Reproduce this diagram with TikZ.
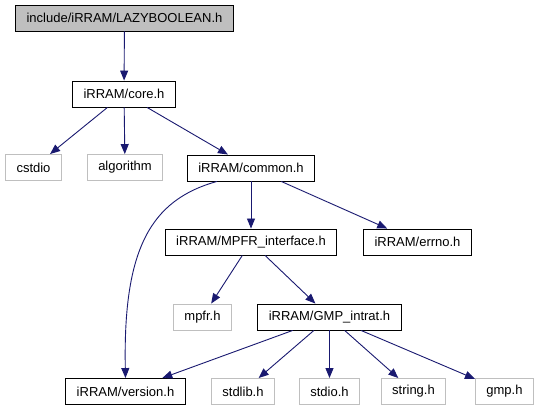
\documentclass[tikz,border=0pt]{standalone}
\usepackage{fontspec}
\setmainfont{Liberation Sans}
\usepackage{tikz}
\usetikzlibrary{arrows.meta}

\definecolor{edgeblue}{HTML}{191970}
\definecolor{boxgray}{HTML}{BFBFBF}

\begin{document}
\begin{tikzpicture}[x=1pt, y=1pt,
		font=\fontsize{13}{15}\selectfont,
		file/.style={draw=black, fill=white, line width=0.9pt, inner xsep=11pt, inner ysep=0pt, minimum height=26pt},
		root/.style={file, fill=boxgray},
		sys/.style={file, draw=boxgray},
		dep/.style={->, draw=edgeblue, line width=0.9pt},
		>={Triangle[length=10pt, width=8pt]}]
		\useasboundingbox (0, 0) rectangle (539, -411);

		% files
		\node[root] (lazy) at (124.5, -18) {include/iRRAM/LAZYBOOLEAN.h};
		\node[file] (core) at (124, -94) {iRRAM/core.h};
		\node[sys] (cstdio) at (33.5, -167.5) {cstdio};
		\node[sys] (algorithm) at (125, -167.5) {algorithm};
		\node[file] (common) at (251, -168) {iRRAM/common.h};
		\node[file] (mpfrif) at (251, -242) {iRRAM/MPFR\_interface.h};
		\node[file] (errno) at (417.5, -242) {iRRAM/errno.h};
		\node[sys] (mpfr) at (202.5, -317) {mpfr.h};
		\node[file] (gmpintrat) at (329.5, -317) {iRRAM/GMP\_intrat.h};
		\node[file] (version) at (125.5, -391.5) {iRRAM/version.h};
		\node[sys] (stdlib) at (243, -391.5) {stdlib.h};
		\node[sys] (stdio) at (329.5, -391.5) {stdio.h};
		\node[sys] (string) at (413.5, -391.5) {string.h};
		\node[sys] (gmp) at (504.5, -391.5) {gmp.h};

		% includes
		\draw[dep] (lazy) -- (core);
		\draw[dep] (core) -- (cstdio);
		\draw[dep] (core) -- (algorithm);
		\draw[dep] (core) -- (common);
		\draw[dep] (common) -- (mpfrif);
		\draw[dep] (common) -- (errno);
		\draw[dep] ([xshift=-34pt]common.south) .. controls (150, -200) and (123, -250) .. (version.north);
		\draw[dep] (mpfrif) -- (mpfr);
		\draw[dep] (mpfrif) -- (gmpintrat);
		\draw[dep] (gmpintrat) -- (version);
		\draw[dep] (gmpintrat) -- (stdlib);
		\draw[dep] (gmpintrat) -- (stdio);
		\draw[dep] (gmpintrat) -- (string);
		\draw[dep] (gmpintrat) -- (gmp);
	\end{tikzpicture}
\end{document}
